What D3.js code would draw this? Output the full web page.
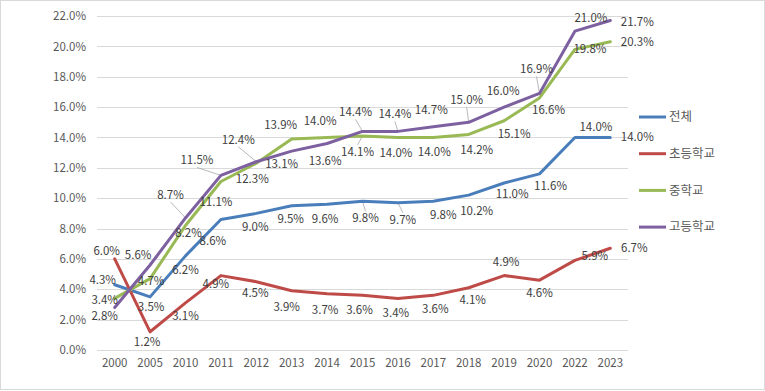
<!DOCTYPE html>
<html>
<head>
<meta charset="utf-8">
<script src="https://cdn.jsdelivr.net/npm/d3@7"></script>
<style>
body{margin:0;background:#fff;}
text{font-family:"Noto Sans CJK KR","Noto Sans",sans-serif;}
</style>
</head>
<body>
<script>
// chart data
var years = ["2000","2005","2010","2011","2012","2013","2014","2015","2016","2017","2018","2019","2020","2022","2023"];
var seriesNames = ["전체","초등학교","중학교","고등학교"];
var total = [4.3,3.5,6.2,8.6,9.0,9.5,9.6,9.8,9.7,9.8,10.2,11.0,11.6,14.0,14.0];
var elementary = [6.0,1.2,3.1,4.9,4.5,3.9,3.7,3.6,3.4,3.6,4.1,4.9,4.6,5.9,6.7];
var middle = [3.4,4.7,8.2,11.1,12.3,13.9,14.0,14.1,14.0,14.0,14.2,15.1,16.6,19.8,20.3];
var high = [2.8,5.6,8.7,11.5,12.4,13.1,13.6,14.4,14.4,14.7,15.0,16.0,16.9,21.0,21.7];
var yTicks = [0,2,4,6,8,10,12,14,16,18,20,22];

var colors = ["#4a7ebb","#be4b48","#98b954","#7d60a0"];

// label placement (offset from point in px, leader line flag)
var labelOffsets = [
  [[-12,-5],[1,10],[0,14],[-8,22],[-1,14],[-1,13],[-2,15],[3,17,1],[5,17,1],[10,14],[8,16],[8,11],[11,12],[21,-10],[27,0]],
  [[-8,-8],[-3,10],[0,13],[-5,8],[-1,11],[-5,16],[-2,16],[-3,15],[-2,15],[2,14],[4,12],[2,-14],[0,13],[20,-4],[24,0]],
  [[-10,2],[1,2],[3,7],[-5,20],[-4,16],[-11,-14],[-7,-16],[-5,16,1],[-2,16],[1,15],[8,16],[10,13],[9,12],[15,0],[27,0]],
  [[-10,8],[-12,-10],[-15,-23,1],[-24,-15,1],[-18,-22,1],[-10,13],[-2,17],[-7,-19,1],[-3,-17,1],[-2,-17],[-2,-22,1],[-1,-16],[-3,-24,1],[16,-13],[27,1]]
];

var series = [total, elementary, middle, high].map(function(vals, k){
  return {name: seriesNames[k], color: colors[k], values: vals.map(function(v, i){return {year: years[i], v: v, off: labelOffsets[k][i]};})};
});

var width = 765, height = 391;
var svg = d3.select("body").append("svg").attr("width", width).attr("height", height);

svg.append("rect").attr("x",0.5).attr("y",0.5).attr("width",width-1).attr("height",height-2)
  .attr("fill","#fff").attr("stroke","#d9d9d9");

var x = d3.scaleBand().domain(years).range([97, 628]);
var y = d3.scaleLinear().domain([0, 22]).range([350, 16]);

// gridlines
svg.append("g").selectAll("line").data(yTicks).enter().append("line")
  .attr("x1", 97).attr("x2", 628)
  .attr("y1", function(d){return Math.round(y(d))+0.5;}).attr("y2", function(d){return Math.round(y(d))+0.5;})
  .attr("stroke", "#d9d9d9").attr("stroke-width", 1);

var yAxis = svg.append("g").attr("transform","translate(86,0)")
  .call(d3.axisLeft(y).tickValues(yTicks).tickSize(0).tickPadding(0).tickFormat(function(d){return d3.format(".1f")(d)+"%";}));
yAxis.select(".domain").remove();
yAxis.selectAll("text").attr("fill","#595959").attr("font-size","11.5px").attr("font-family",'"Noto Sans CJK KR","Noto Sans",sans-serif');

var xAxis = svg.append("g").attr("transform","translate(0,359)")
  .call(d3.axisBottom(x).tickSize(0).tickPadding(0));
xAxis.select(".domain").remove();
xAxis.selectAll("text").attr("fill","#595959").attr("font-size","11.5px").attr("font-family",'"Noto Sans CJK KR","Noto Sans",sans-serif');

var line = d3.line()
  .x(function(d){return x(d.year) + x.bandwidth()/2;})
  .y(function(d){return y(d.v);});

// data labels
var pts = [];
series.forEach(function(s){ s.values.forEach(function(p){ pts.push(p); }); });

// leader lines
svg.append("g").selectAll("line").data(pts.filter(function(p){return p.off[2];})).enter().append("line")
  .attr("x1", function(p){return x(p.year)+x.bandwidth()/2 + p.off[0];})
  .attr("y1", function(p){return y(p.v) + p.off[1] + (p.off[1] < 0 ? 7 : -7);})
  .attr("x2", function(p){return x(p.year)+x.bandwidth()/2;})
  .attr("y2", function(p){return y(p.v);})
  .attr("stroke","#a6a6a6").attr("stroke-width",0.8);

var g = svg.selectAll(".series").data(series).enter().append("g").attr("class","series");
g.append("path").attr("d", function(d){return line(d.values);})
  .attr("fill","none").attr("stroke", function(d){return d.color;})
  .attr("stroke-width",3).attr("stroke-linejoin","round").attr("stroke-linecap","round");

svg.append("g").selectAll("text").data(pts).enter().append("text")
  .attr("x", function(p){return x(p.year)+x.bandwidth()/2 + p.off[0];})
  .attr("y", function(p){return y(p.v) + p.off[1];})
  .attr("dy","0.35em").attr("text-anchor","middle")
  .attr("font-size","11.5px").attr("fill","#404040")
  .text(function(p){return d3.format(".1f")(p.v)+"%";});

// legend
var leg = svg.append("g").selectAll("g").data(series).enter().append("g")
  .attr("transform", function(d, i){return "translate(639," + (117 + i*36.7) + ")";});
leg.append("line").attr("x1",0).attr("x2",27).attr("stroke", function(d){return d.color;}).attr("stroke-width",3);
leg.append("text").attr("x",30).attr("dy","0.35em").attr("font-size","12.5px").attr("fill","#595959")
  .text(function(d){return d.name;});
</script>
</body>
</html>
